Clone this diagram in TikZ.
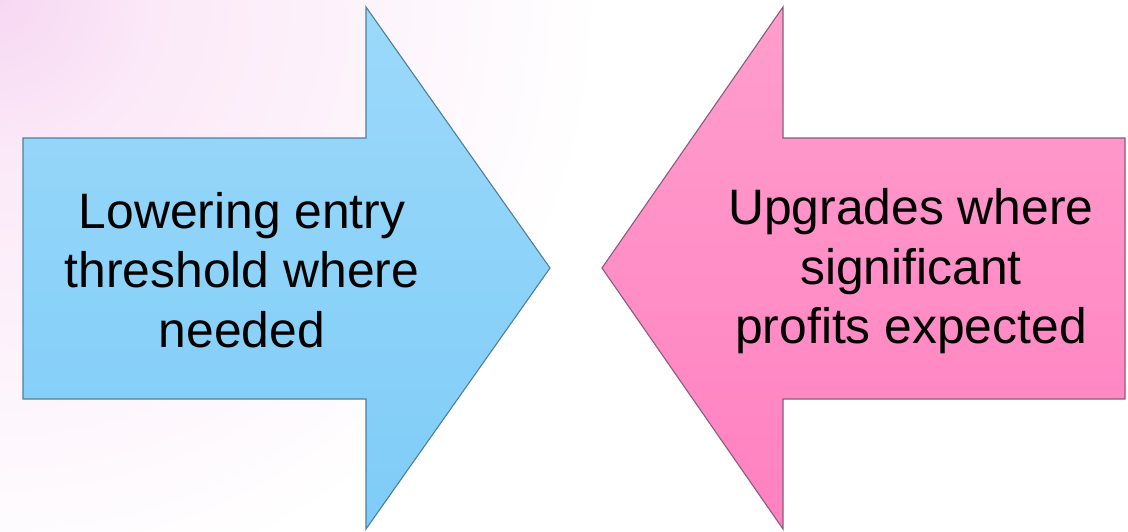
\documentclass[tikz,border=0pt]{standalone}
\usepackage{fontspec}
\setmainfont{Liberation Sans}
\definecolor{bgpink}{HTML}{F7D8F2}
\definecolor{bgmid}{HTML}{FBE9F8}
\definecolor{bluetop}{HTML}{9CD9FA}
\definecolor{bluebot}{HTML}{7ECCF8}
\definecolor{blueedge}{HTML}{4F7F96}
\definecolor{pinktop}{HTML}{FF9ECD}
\definecolor{pinkbot}{HTML}{FF80C0}
\definecolor{pinkedge}{HTML}{8C5A7A}
\pgfdeclareradialshading{bgshade}{\pgfpoint{0bp}{0bp}}{color(0bp)=(bgpink); color(4bp)=(bgmid); color(15bp)=(white); color(50bp)=(white)}
\tikzset{
  bluearrow/.style={draw=blueedge, line width=1.1pt, line join=miter, top color=bluetop, bottom color=bluebot},
  pinkarrow/.style={draw=pinkedge, line width=1.1pt, line join=miter, top color=pinktop, bottom color=pinkbot},
  label/.style={align=center, inner sep=0pt, font=\fontsize{49.8}{59.5}\selectfont, text=black}
}
\begin{document}
\begin{tikzpicture}[x=1pt, y=-1pt]
  \useasboundingbox (0,0) rectangle (1128,531);
  \fill[white] (0,0) rectangle (1128,531);
  \begin{scope}
    \clip (0,0) rectangle (1128,531);
    \shade[shading=bgshade] (0,0) circle (1000);
  \end{scope}
  % blue arrow (pointing right)
  \path[bluearrow] (23,138) -- (366,138) -- (366,7) -- (550,268) -- (366,529) -- (366,399) -- (23,399) -- cycle;
  % pink arrow (pointing left)
  \path[pinkarrow] (1125,138) -- (783,138) -- (783,7) -- (602,268) -- (783,529) -- (783,399) -- (1125,399) -- cycle;
  \node[label] (lower) at (242,270) {Lowering entry\\threshold where\\needed};
  \node[label] (upgr) at (911,271.5) {Upgrades where\\significant\\profits expected};
\end{tikzpicture}
\end{document}
